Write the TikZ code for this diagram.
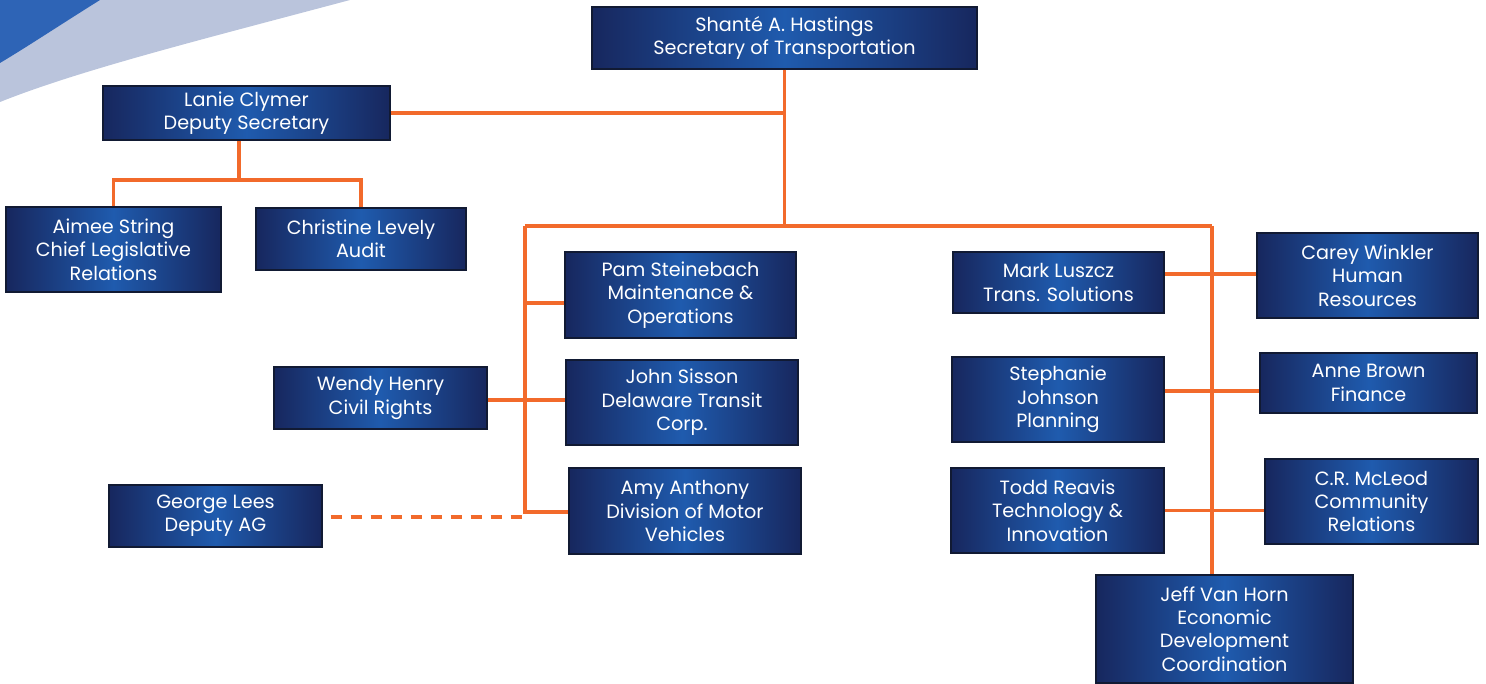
\documentclass[tikz,border=0pt]{standalone}
\usepackage{fontspec}
\setmainfont{Poppins}
\definecolor{navy}{HTML}{17275E}
\definecolor{midblue}{HTML}{1F5BAE}
\definecolor{edgecol}{HTML}{111A33}
\definecolor{conn}{HTML}{F26A2B}
\definecolor{swdark}{HTML}{2E64B6}
\definecolor{swlight}{HTML}{BAC4DC}
\tikzset{
  box/.style={rectangle, left color=navy, right color=navy, middle color=midblue,
    draw=edgecol, line width=0.8pt, text=white, align=center, inner sep=0pt,
    font=\fontsize{14.4pt}{17.5pt}\selectfont},
  link/.style={draw=conn, line width=2.6pt},
  dlink/.style={draw=conn, line width=2.6pt, dash pattern=on 8.5pt off 6.5pt},
}
\begin{document}
\begin{tikzpicture}[x=0.75pt,y=-0.75pt]
\useasboundingbox (0,0) rectangle (1486,684);
% swoosh
\fill[swlight] (0,0) -- (350,0) .. controls (200,40) and (80,70) .. (0,102) -- cycle;
\fill[swdark] (0,0) -- (100,0) .. controls (60,25) and (30,45) .. (0,63) -- cycle;

\node[box, minimum width=288.75pt, minimum height=46.5pt] (shan) at (784.5,38) {Shanté A. Hastings\\Secretary of Transportation};
\node[box, minimum width=215.25pt, minimum height=40.5pt] (lanie) at (246.5,113) {Lanie Clymer\\Deputy Secretary};
\node[box, minimum width=161.25pt, minimum height=63.75pt] (aimee) at (113.5,249.5) {Aimee String\\Chief Legislative\\Relations};
\node[box, minimum width=157.5pt, minimum height=46.5pt] (christine) at (361,239) {Christine Levely\\Audit};
\node[box, minimum width=173.25pt, minimum height=64.5pt] (pam) at (680.5,295) {Pam Steinebach\\Maintenance \&\\Operations};
\node[box, minimum width=159.75pt, minimum height=46.5pt] (wendy) at (380.5,398) {Wendy Henry\\Civil Rights};
\node[box, minimum width=174pt, minimum height=63.75pt] (john) at (682,402.5) {John Sisson\\Delaware Transit\\Corp.};
\node[box, minimum width=159.75pt, minimum height=46.5pt] (george) at (215.5,516) {George Lees\\Deputy AG};
\node[box, minimum width=174pt, minimum height=64.5pt] (amy) at (685,511) {Amy Anthony\\Division of Motor\\Vehicles};
\node[box, minimum width=158.25pt, minimum height=45.75pt] (mark) at (1058.5,282.5) {Mark Luszcz\\Trans. Solutions};
\node[box, minimum width=165.75pt, minimum height=63.75pt] (carey) at (1367.5,275.5) {Carey Winkler\\Human\\Resources};
\node[box, minimum width=159pt, minimum height=63.75pt] (steph) at (1058,399.5) {Stephanie\\Johnson\\Planning};
\node[box, minimum width=162.75pt, minimum height=45pt] (anne) at (1368.5,383) {Anne Brown\\Finance};
\node[box, minimum width=159.75pt, minimum height=63.75pt] (todd) at (1057.5,510.5) {Todd Reavis\\Technology \&\\Innovation};
\node[box, minimum width=159.75pt, minimum height=63.75pt] (cr) at (1371.5,501.5) {C.R. McLeod\\Community\\Relations};
\node[box, minimum width=192.75pt, minimum height=81pt] (jeff) at (1224.5,629) {Jeff Van Horn\\Economic\\Development\\Coordination};

\coordinate (hl) at (525,226);
\coordinate (hr) at (1212,226);
\coordinate (lt) at (239,180);
\coordinate (sa) at (1212,391);

\draw[link] (shan.south) -- (shan.south |- hl);
\draw[link] (lanie.east) -- (lanie.east -| shan.south);
\draw[link] (hl) -- (hr);
\draw[link] (hl) |- ([yshift=-0.75pt]amy.west);
\draw[link] ([yshift=-6pt]pam.west) -- ([yshift=-6pt]pam.west -| hl);
\draw[link] ([yshift=-1.5pt]wendy.east) -- ([yshift=-1.5pt]wendy.east -| john.west);
\draw[dlink] ([xshift=6pt,yshift=-0.75pt]george.east) -- ([yshift=-0.75pt]george.east -| hl);
\draw[link] (hr) -- (hr |- jeff.north);
\draw[link] ([yshift=1.2pt]carey.west) -- ([yshift=1.2pt]carey.west -| mark.east);
\draw[link] (sa -| steph.east) -- (sa -| anne.west);
\draw[link] (todd.east) -- (todd.east -| cr.west);
\draw[link] (lt |- lanie.south) -- (lt);
\draw[link] (aimee.north) -- (aimee.north |- lt) -- (christine.north |- lt) -- (christine.north);
\end{tikzpicture}
\end{document}
